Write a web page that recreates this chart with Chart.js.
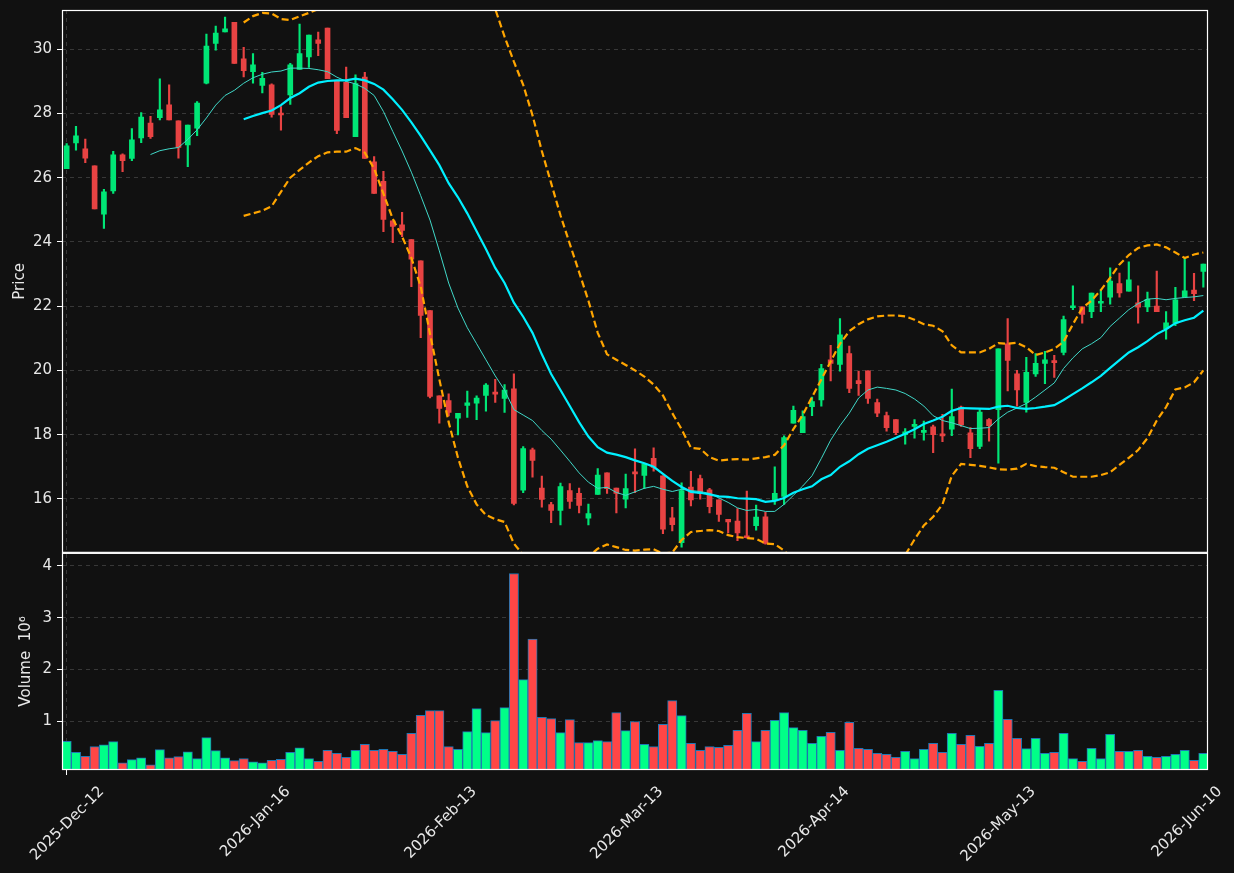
<!DOCTYPE html>
<html>
<head>
<meta charset="utf-8">
<title>Price / Volume</title>
<script src="https://cdn.jsdelivr.net/npm/chart.js@4/dist/chart.umd.min.js"></script>
<style>
  html, body { margin: 0; padding: 0; background: #111111; }
  #wrap { width: 1234px; height: 873px; }
</style>
</head>
<body>
<div id="wrap"><canvas id="chart" width="1234" height="873"></canvas></div>
<script>
// ── Data ────────────────────────────────────────────────────────
const tickDates = ["2025-Dec-12", "2026-Jan-16", "2026-Feb-13", "2026-Mar-13",
                   "2026-Apr-14", "2026-May-13", "2026-Jun-10"];
const tickEvery = 20;
const priceTicks = [16, 18, 20, 22, 24, 26, 28, 30];
const volumeTicks = [1, 2, 3, 4];

const open = [26.28,27.08,26.9,26.37,24.86,25.59,26.71,26.6,27.24,27.7,
  27.87,28.27,27.77,27.02,27.54,28.94,30.18,30.54,30.84,29.7,
  29.3,28.87,28.89,27.99,28.58,29.37,29.76,30.29,30.66,29.0,
  28.97,27.28,29.13,26.49,25.89,24.66,24.53,24.07,23.41,21.86,
  19.21,19.06,18.51,18.91,18.98,19.22,19.3,19.13,19.43,16.27,
  17.53,16.34,15.82,15.64,16.26,16.17,15.4,16.14,16.81,16.34,
  15.99,16.8,16.73,17.26,16.72,15.41,14.64,16.37,16.63,16.28,
  15.97,15.36,15.31,14.81,15.17,15.44,15.97,16.08,18.36,18.06,
  18.87,19.08,20.33,20.19,20.52,19.68,19.99,19.0,18.59,18.47,
  18.0,18.26,18.07,18.24,17.98,18.17,18.86,18.06,17.63,18.47,
  18.78,20.83,19.89,19.0,19.89,20.22,20.26,20.56,21.95,21.98,
  21.83,22.09,22.28,22.7,22.47,22.1,21.98,22.0,21.3,21.47,
  22.28,22.5,23.08];
const high = [27.06,27.6,27.2,26.37,25.64,26.82,26.74,27.53,28.03,27.91,
  29.08,28.89,27.77,27.64,28.37,30.47,30.72,31.0,30.84,30.06,
  29.86,29.28,28.92,28.21,29.56,30.78,30.44,30.53,30.66,29.0,
  29.44,29.2,29.28,26.66,26.2,24.66,24.92,24.07,23.41,21.86,
  19.21,19.27,18.66,19.36,19.21,19.59,19.72,19.56,19.89,17.63,
  17.58,16.71,15.89,16.49,16.48,16.34,15.84,16.94,16.81,16.34,
  16.77,17.56,17.09,17.59,16.72,15.74,16.5,16.86,16.74,16.33,
  15.97,15.36,15.7,16.24,15.81,15.59,17.0,17.96,18.89,18.74,
  19.17,20.19,20.78,21.61,20.76,19.98,19.99,19.11,18.7,18.47,
  18.19,18.47,18.42,18.3,18.63,19.42,18.89,18.22,18.78,18.5,
  20.67,21.61,20.0,20.41,20.52,20.59,20.47,21.69,22.63,21.98,
  22.41,22.52,23.19,23.03,23.38,22.63,22.44,23.09,21.83,22.59,
  23.52,23.02,23.31];
const low = [26.28,26.86,26.47,25.03,24.42,25.51,26.19,26.53,27.09,27.22,
  27.8,27.8,26.61,26.34,27.31,28.92,29.97,30.54,29.56,29.14,
  28.94,28.64,27.88,27.48,28.28,29.37,29.43,29.8,29.08,27.37,
  27.87,27.28,26.6,25.51,24.32,23.98,24.16,22.61,21.02,19.14,
  18.36,18.58,17.99,18.54,18.47,18.73,19.0,18.69,15.81,16.19,
  16.68,15.74,15.26,15.19,15.7,15.56,15.19,16.14,16.17,15.56,
  15.72,16.19,16.32,16.86,14.92,15.0,14.5,15.78,15.99,15.56,
  15.3,14.94,14.7,14.78,15.03,14.59,15.83,15.83,18.36,18.06,
  18.59,18.89,19.67,19.98,19.31,19.22,18.97,18.56,18.11,18.0,
  17.7,17.89,17.83,17.44,17.78,17.97,18.26,17.28,17.56,17.8,
  17.11,19.36,18.89,18.7,19.81,19.59,19.78,20.48,21.89,21.47,
  21.64,21.83,22.06,22.28,22.47,21.47,21.83,21.83,20.97,21.39,
  22.28,22.17,22.59];
const close = [26.99,27.3,26.61,25.03,25.56,26.71,26.53,27.18,27.89,27.28,
  28.11,27.8,26.94,27.64,28.32,30.1,30.5,30.63,29.56,29.33,
  29.51,29.09,27.97,27.95,29.51,29.86,30.44,30.18,29.08,27.47,
  27.87,28.93,26.6,25.51,24.7,24.48,24.36,23.46,21.71,19.19,
  18.82,18.69,18.66,18.99,19.14,19.54,19.26,19.39,15.86,17.57,
  17.2,15.98,15.64,16.38,15.92,15.8,15.54,16.74,16.32,16.17,
  16.32,16.78,17.09,16.98,15.06,15.2,16.26,15.97,16.17,15.76,
  15.52,15.28,14.94,14.79,15.43,14.61,16.17,17.91,18.76,18.56,
  19.03,20.06,20.22,21.11,19.44,19.59,19.13,18.67,18.22,18.06,
  18.09,18.32,18.13,18.0,17.96,18.56,18.3,17.56,18.7,18.28,
  20.67,20.31,19.39,19.94,20.22,20.33,20.24,21.58,21.98,21.74,
  22.41,22.13,22.78,22.41,22.82,21.97,22.21,21.83,21.48,22.2,
  22.48,22.39,23.31];
// volume in millions
const volume = [0.614,0.402,0.324,0.51,0.548,0.606,0.20,0.259,0.297,0.162,
  0.452,0.297,0.317,0.413,0.278,0.684,0.433,0.297,0.24,0.278,
  0.22,0.20,0.247,0.267,0.402,0.49,0.278,0.228,0.44,0.382,
  0.305,0.44,0.556,0.44,0.46,0.421,0.363,0.769,1.116,1.205,
  1.205,0.51,0.46,0.80,1.244,0.78,1.012,1.263,3.851,1.804,
  2.584,1.078,1.051,0.78,1.031,0.587,0.587,0.626,0.606,1.166,
  0.819,0.993,0.556,0.51,0.942,1.398,1.109,0.575,0.44,0.51,
  0.498,0.537,0.826,1.155,0.606,0.826,1.02,1.166,0.877,0.826,
  0.575,0.711,0.788,0.44,0.981,0.479,0.46,0.382,0.363,0.305,
  0.421,0.278,0.46,0.575,0.402,0.769,0.556,0.73,0.517,0.575,
  1.599,1.039,0.672,0.471,0.672,0.382,0.402,0.769,0.278,0.228,
  0.479,0.278,0.749,0.421,0.421,0.44,0.324,0.305,0.324,0.363,
  0.44,0.247,0.382];
// moving average / band lines
const maShort = [null,null,null,null,null,null,null,null,null,26.72,
  26.84,26.9,26.94,27.19,27.49,27.86,28.26,28.56,28.72,28.94,
  29.11,29.22,29.29,29.32,29.41,29.41,29.4,29.36,29.3,29.13,
  29.0,28.92,28.78,28.56,28.06,27.44,26.83,26.17,25.44,24.68,
  23.72,22.72,21.94,21.33,20.83,20.33,19.83,19.39,18.78,18.61,
  18.44,18.13,17.86,17.52,17.17,16.81,16.52,16.33,16.36,16.2,
  16.11,16.22,16.33,16.39,16.3,16.23,16.3,16.26,16.23,16.17,
  16.03,15.89,15.72,15.64,15.67,15.61,15.61,15.83,16.11,16.4,
  16.72,17.26,17.83,18.28,18.67,19.14,19.39,19.48,19.44,19.39,
  19.28,19.11,18.89,18.59,18.44,18.37,18.28,18.19,18.2,18.22,
  18.49,18.7,18.83,18.97,19.17,19.39,19.61,20.06,20.39,20.67,
  20.83,21.02,21.37,21.63,21.89,22.08,22.22,22.24,22.2,22.24,
  22.27,22.29,22.33];
const maLong = [null,null,null,null,null,null,null,null,null,null,
  null,null,null,null,null,null,null,null,null,27.82,
  27.92,28.01,28.09,28.26,28.48,28.63,28.83,28.96,29.01,29.03,
  29.03,29.08,29.03,28.92,28.74,28.44,28.11,27.72,27.3,26.85,
  26.39,25.83,25.39,24.89,24.33,23.78,23.19,22.72,22.11,21.67,
  21.17,20.5,19.89,19.39,18.89,18.39,17.94,17.61,17.44,17.38,
  17.3,17.2,17.11,17.0,16.78,16.56,16.37,16.22,16.19,16.14,
  16.08,16.06,16.02,16.01,15.99,15.91,15.94,16.03,16.19,16.3,
  16.39,16.61,16.74,17.0,17.17,17.39,17.56,17.67,17.78,17.9,
  18.03,18.17,18.33,18.44,18.56,18.74,18.83,18.82,18.81,18.8,
  18.87,18.9,18.83,18.8,18.83,18.87,18.92,19.08,19.26,19.44,
  19.63,19.83,20.08,20.32,20.56,20.72,20.91,21.13,21.28,21.47,
  21.56,21.64,21.86];
const bandUpper = [null,null,null,null,null,null,null,null,null,null,
  null,null,null,null,null,null,null,null,null,30.83,
  31.03,31.13,31.11,30.94,30.91,31.02,31.13,31.25,31.35,31.5,
  31.6,31.65,31.75,31.9,32.1,32.4,32.7,33.0,33.4,33.7,
  33.8,33.7,33.5,33.1,32.6,32.0,31.25,30.39,29.61,28.89,
  27.94,26.83,25.83,24.83,23.94,23.06,22.17,21.17,20.5,20.33,
  20.17,20.0,19.81,19.56,19.22,18.67,18.17,17.59,17.56,17.3,
  17.19,17.22,17.24,17.22,17.26,17.3,17.37,17.67,18.17,18.61,
  19.17,19.72,20.28,20.83,21.22,21.44,21.59,21.68,21.71,21.71,
  21.68,21.58,21.44,21.39,21.22,20.78,20.56,20.56,20.56,20.67,
  20.85,20.83,20.86,20.72,20.48,20.56,20.67,20.89,21.44,21.94,
  22.17,22.5,22.89,23.3,23.59,23.81,23.89,23.92,23.83,23.67,
  23.5,23.61,23.67];
const bandLower = [null,null,null,null,null,null,null,null,null,null,
  null,null,null,null,null,null,null,null,null,24.81,
  24.89,24.97,25.11,25.56,26.0,26.24,26.47,26.67,26.79,26.81,
  26.81,26.92,26.78,26.28,25.5,24.72,24.17,23.5,22.61,21.14,
  19.72,18.39,17.28,16.39,15.83,15.5,15.37,15.28,14.61,14.25,
  13.9,13.6,13.45,13.5,13.7,13.95,14.2,14.45,14.58,14.5,
  14.41,14.39,14.42,14.43,14.3,14.33,14.72,14.97,15.0,15.03,
  15.0,14.87,14.81,14.78,14.76,14.61,14.59,14.39,14.1,13.8,
  13.4,13.0,12.6,12.3,12.2,12.2,12.3,12.6,13.0,13.6,
  14.25,14.74,15.17,15.44,15.83,16.72,17.09,17.06,17.03,16.98,
  16.92,16.91,16.94,17.09,17.02,16.99,16.97,16.83,16.69,16.69,
  16.69,16.74,16.83,17.06,17.28,17.52,17.89,18.44,18.86,19.41,
  19.47,19.63,20.0];

// ── Styling ─────────────────────────────────────────────────────
const fontFamily = "'DejaVu Sans', sans-serif";
const fontSize   = 15;
const textColor  = "#e8e8e8";
const gridColor  = "#383838";
const upCandle   = "#00e676";
const downCandle = "#e84343";
const upVol      = "#00ff88";
const downVol    = "#ff4646";

const isUp = close.map((c, i) => c >= open[i]);
const barIndex = open.map((_, i) => i);

// background fill
const bgPlugin = {
  id: "bg",
  beforeDraw(chart) {
    const c = chart.ctx;
    c.save();
    c.fillStyle = "#111111";
    c.fillRect(0, 0, chart.width, chart.height);
    c.restore();
  },
};

// keep each dataset inside its own panel
const panelClip = {
  id: "panelClip",
  beforeDatasetDraw(chart, args) {
    const ds = chart.data.datasets[args.index];
    const ax = chart.scales[ds.yAxisID];
    const a = chart.chartArea;
    chart.ctx.save();
    chart.ctx.beginPath();
    chart.ctx.rect(a.left, ax.top, a.right - a.left, ax.bottom - ax.top);
    chart.ctx.clip();
  },
  afterDatasetDraw(chart) {
    chart.ctx.restore();
  },
};

// white frame round each panel
const framePlugin = {
  id: "frame",
  afterDraw(chart) {
    const c = chart.ctx;
    const a = chart.chartArea;
    c.save();
    c.strokeStyle = "#ffffff";
    c.lineWidth = 1.2;
    ["y", "yv"].forEach((id) => {
      const s = chart.scales[id];
      c.strokeRect(a.left + 0.5, s.top + 0.5, a.right - a.left - 1, s.bottom - s.top - 1);
    });
    c.restore();
  },
};

function fixPanel(s) {
  s.width = 62;
  s.paddingTop = 0;
  s.paddingBottom = 0;
}

function yAxis(opts) {
  return Object.assign({
    type: "linear",
    position: "left",
    stack: "panels",
    afterFit: fixPanel,
    grid: { color: gridColor, tickColor: "#ffffff", tickLength: 5, drawTicks: true },
    border: { display: false, dash: [4, 4] },
    ticks: { color: textColor, padding: 5, font: { family: fontFamily, size: fontSize } },
  }, opts);
}

new Chart(document.getElementById("chart"), {
  type: "bar",
  data: {
    labels: barIndex,
    datasets: [
      {
        type: "line", label: "MA long", data: maLong, yAxisID: "y", order: 0,
        borderColor: "#00f0ff", borderWidth: 2.2, pointRadius: 0, tension: 0,
      },
      {
        type: "line", label: "MA short", data: maShort, yAxisID: "y", order: 0,
        borderColor: "#40d8c8", borderWidth: 1, pointRadius: 0, tension: 0,
      },
      {
        type: "line", label: "Upper", data: bandUpper, yAxisID: "y", order: 0,
        borderColor: "#ffa500", borderWidth: 2.2, borderDash: [7, 3.5], pointRadius: 0, tension: 0,
      },
      {
        type: "line", label: "Lower", data: bandLower, yAxisID: "y", order: 0,
        borderColor: "#ffa500", borderWidth: 2.2, borderDash: [7, 3.5], pointRadius: 0, tension: 0,
      },
      {
        label: "Wick", data: low.map((l, i) => [l, high[i]]), yAxisID: "y", order: 1,
        grouped: false, barThickness: 1.5,
        backgroundColor: isUp.map((u) => (u ? upCandle : downCandle)),
      },
      {
        label: "Body", data: open.map((o, i) => [o, close[i]]), yAxisID: "y", order: 1,
        grouped: false, barThickness: 5, minBarLength: 2,
        backgroundColor: isUp.map((u) => (u ? upCandle : downCandle)),
      },
      {
        label: "Volume", data: volume, yAxisID: "yv", order: 2,
        grouped: false, barPercentage: 1, categoryPercentage: 1,
        backgroundColor: isUp.map((u) => (u ? upVol : downVol)),
        borderColor: "#1f77b4", borderWidth: 1,
      },
    ],
  },
  options: {
    responsive: false,
    animation: false,
    devicePixelRatio: 1,
    layout: { padding: { top: 10, right: 26, left: 0, bottom: 0 } },
    plugins: { legend: { display: false }, tooltip: { enabled: false } },
    scales: {
      x: {
        type: "category",
        offset: true,
        afterFit: (s) => { s.height = 103; s.paddingLeft = 0; s.paddingRight = 0; },
        grid: {
          offset: false,
          color: (ctx) => (ctx.index % tickEvery === 0 ? gridColor : "transparent"),
          tickColor: (ctx) => (ctx.index % tickEvery === 0 ? "#ffffff" : "transparent"),
          tickLength: 5,
        },
        border: { display: false, dash: [4, 4] },
        ticks: {
          autoSkip: false,
          maxRotation: 45,
          minRotation: 45,
          labelOffset: 35,
          padding: 8,
          color: textColor,
          font: { family: fontFamily, size: fontSize },
          callback: (v, i) => (i % tickEvery === 0 ? tickDates[i / tickEvery] : null),
        },
      },
      yv: yAxis({
        stackWeight: 1,
        min: 0.06,
        max: 4.25,
        afterBuildTicks: (s) => { s.ticks = volumeTicks.map((v) => ({ value: v })); },
        title: {
          display: true, text: "Volume  10\u2076", color: textColor,
          padding: { top: 17, bottom: 0 }, font: { family: fontFamily, size: fontSize },
        },
      }),
      y: yAxis({
        stackWeight: 2.5,
        min: 14.32,
        max: 31.22,
        afterBuildTicks: (s) => { s.ticks = priceTicks.map((v) => ({ value: v })); },
        title: {
          display: true, text: "Price", color: textColor,
          padding: { top: 11, bottom: 0 }, font: { family: fontFamily, size: fontSize },
        },
      }),
    },
  },
  plugins: [bgPlugin, panelClip, framePlugin],
});
</script>
</body>
</html>
